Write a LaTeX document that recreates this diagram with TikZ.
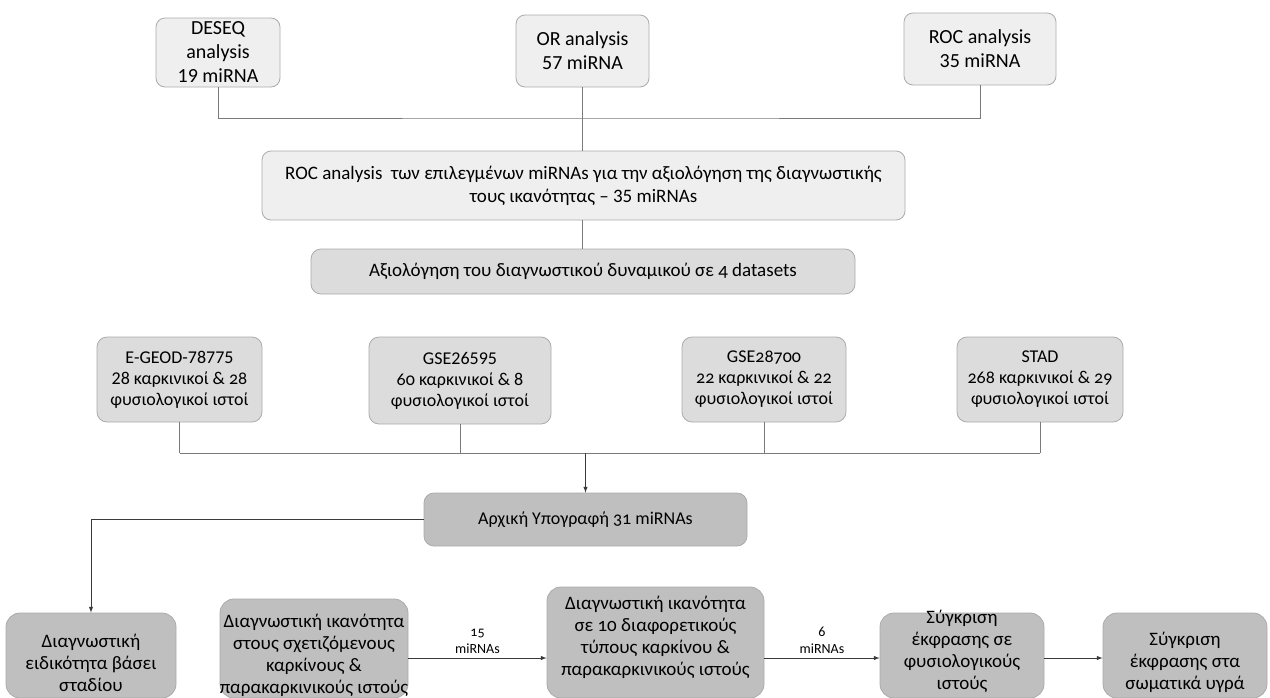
\documentclass[tikz,border=0pt]{standalone}
\usepackage{fontspec}
\setmainfont{Carlito}
\newfontfamily\osf{Carlito}[Numbers=OldStyle]
\usetikzlibrary{arrows}
\definecolor{topfill}{HTML}{EFEFEF}
\definecolor{midfill}{HTML}{DCDCDC}
\definecolor{lowfill}{HTML}{BFBFBF}
\definecolor{boxline}{HTML}{ABABAB}
\definecolor{connline}{HTML}{7A7A7A}
\definecolor{arrline}{HTML}{3A3A3A}

\begin{document}
\begin{tikzpicture}[x=1pt, y=-1pt,
  topbox/.style={draw=boxline, line width=0.8pt, fill=topfill, rounded corners=9pt, align=center, inner sep=0pt, font=\fontsize{20}{24}\selectfont},
  databox/.style={draw=boxline, line width=0.8pt, fill=midfill, rounded corners=10pt, align=center, inner sep=0pt, font=\fontsize{18}{21}\selectfont},
  lowbox/.style={draw=boxline, line width=0.8pt, fill=lowfill, rounded corners=14pt, inner sep=0pt},
  lowtext/.style={align=center, inner sep=0pt, font=\fontsize{19}{22}\selectfont},
  conn/.style={draw=connline, line width=0.9pt},
  arr/.style={draw=arrline, line width=1pt, -latex},
  elab/.style={fill=white, align=center, inner sep=2pt, font=\fontsize{14}{17}\selectfont}]
\useasboundingbox (0,0) rectangle (1270,697);

\node [topbox, minimum width=124pt, minimum height=69pt] (deseq) at (218,52.5) {DESEQ\\analysis\\19 miRNA};
\node [topbox, minimum width=133pt, minimum height=72pt] (orbox) at (582.5,51) {OR analysis\\57 miRNA};
\node [topbox, minimum width=152pt, minimum height=72pt] (rocsm) at (980,49) {ROC analysis\\35 miRNA};

\node [topbox, minimum width=643pt, minimum height=69pt, font=\fontsize{19}{23}\selectfont] (rocbig) at (583.5,185.5)
  {ROC analysis\ \ των επιλεγμένων miRNAs για την αξιολόγηση της διαγνωστικής\\τους ικανότητας -- 35 miRNAs};
\node [databox, minimum width=544pt, minimum height=45pt, font=\fontsize{19}{23}\selectfont] (evalbox) at (583,271.5)
  {Αξιολόγηση του διαγνωστικού δυναμικού σε {\osf 4} datasets};

\node [databox, minimum width=165pt, minimum height=85pt] (ds1) at (179.5,379.5) {E-GEOD-78775\\28 καρκινικοί \& {\osf 28}\\φυσιολογικοί ιστοί};
\node [databox, minimum width=182pt, minimum height=87pt] (ds2) at (460,380.5) {GSE26595\\{\osf 60} καρκινικοί \& 8\\φυσιολογικοί ιστοί};
\node [databox, minimum width=164pt, minimum height=85pt] (ds3) at (764,379.5) {GSE{\osf 28700}\\{\osf 22} καρκινικοί \& {\osf 22}\\φυσιολογικοί ιστοί};
\node [databox, minimum width=166pt, minimum height=85pt] (ds4) at (1040,379.5) {STAD\\{\osf 268} καρκινικοί \& {\osf 29}\\φυσιολογικοί ιστοί};

\node [databox, fill=lowfill, minimum width=323pt, minimum height=53pt] (sig) at (585.5,519.5) {Αρχική Υπογραφή {\osf 31} miRNAs};

\node [lowbox, minimum width=170pt, minimum height=85pt] (b1) at (91,655.5) {};
\node [lowbox, minimum width=188pt, minimum height=99pt] (b2) at (314,648.5) {};
\node [lowbox, minimum width=217pt, minimum height=111pt] (b3) at (655.5,642.5) {};
\node [lowbox, minimum width=164pt, minimum height=85pt] (b4) at (962,655.5) {};
\node [lowbox, minimum width=164pt, minimum height=85pt] (b5) at (1185,655.5) {};

\node [lowtext] (t1) at (91,663) {Διαγνωστική\\ειδικότητα βάσει\\σταδίου};
\node [lowtext] (t2) at (314,655) {Διαγνωστική ικανότητα\\στους σχετιζόμενους\\καρκίνους \&\\παρακαρκινικούς ιστούς};
\node [lowtext] (t3) at (655.5,637) {Διαγνωστική ικανότητα\\σε {\osf 10} διαφορετικούς\\τύπους καρκίνου \&\\παρακαρκινικούς ιστούς};
\node [lowtext] (t4) at (962,651) {Σύγκριση\\έκφρασης σε\\φυσιολογικούς\\ιστούς};
\node [lowtext] (t5) at (1185,662) {Σύγκριση\\έκφρασης στα\\σωματικά υγρά};

\coordinate (topj) at (582.5,118);
\coordinate (dsj) at (585.5,453);
\coordinate (brow) at (0,658);

\draw [conn] (deseq.south) |- (topj) -| (rocsm.south);
\draw [conn] (orbox.south) -- (orbox.south |- rocbig.north);
\draw [conn] (rocbig.south -| orbox.south) -- (orbox.south |- evalbox.north);

\foreach \d in {ds1,ds2,ds3,ds4} {
\draw [conn] (\d.south) -- (\d.south |- dsj);
}
\draw [conn] (ds1.south |- dsj) -- (ds4.south |- dsj);
\draw [arr] (dsj) -- (sig.north);

\draw [arr] (sig.west) -| (b1.north);
\draw [arr] (b2.east |- brow) -- node [elab, above=2pt] {{\osf 15}\\miRNAs} (b3.west |- brow);
\draw [arr] (b3.east |- brow) -- node [elab, above=2pt] {6\\miRNAs} (b4.west |- brow);
\draw [arr] (b4.east |- brow) -- (b5.west |- brow);

\end{tikzpicture}
\end{document}
